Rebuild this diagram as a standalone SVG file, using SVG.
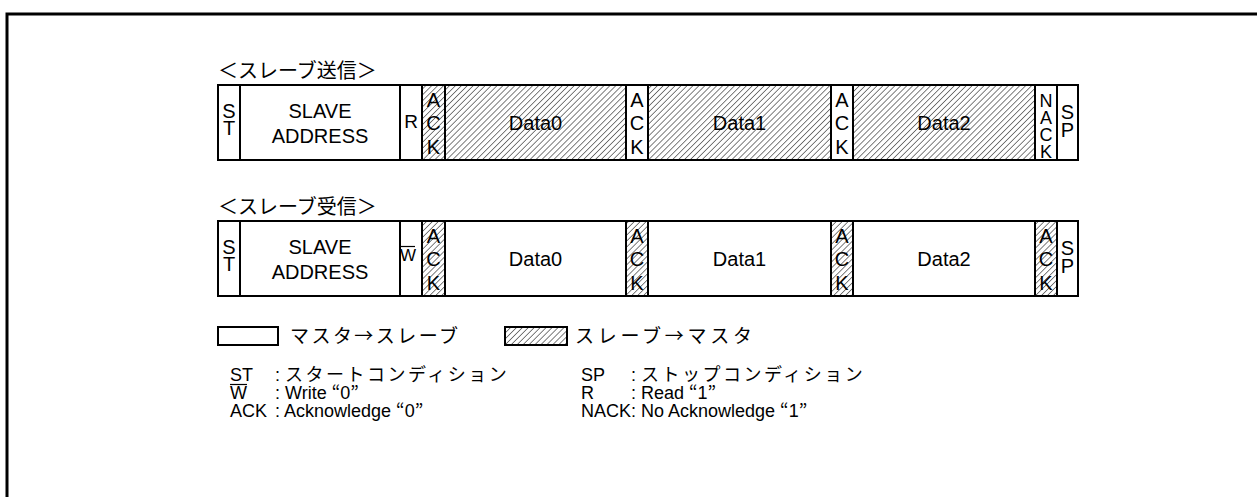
<svg xmlns="http://www.w3.org/2000/svg" width="1257" height="497" viewBox="0 0 1257 497">
<style>
.t{font-family:"Liberation Sans",Arial,sans-serif;fill:#000}
.j{font-family:"Noto Sans CJK JP","Liberation Sans",sans-serif;fill:#000}
.c{stroke:#000;stroke-width:2}
.w{fill:#fff}
.h{fill:url(#hatch)}
.m{text-anchor:middle;font-size:20px}
.d{font-size:18px}
.dj{font-size:18px;letter-spacing:2.5px}
</style>
<defs>
<pattern id="hatch" patternUnits="userSpaceOnUse" width="4.2" height="4.2" patternTransform="rotate(45)">
<rect width="4.2" height="4.2" fill="#fff"/>
<line x1="0" y1="0" x2="0" y2="4.2" stroke="#000" stroke-width="1"/>
</pattern>
</defs>
<rect width="1257" height="497" fill="#fff"/>
<path d="M7 497 V14 H1257" fill="none" stroke="#000" stroke-width="3"/>

<g id="title1"><text class="j" x="218" y="78" font-size="20">＜スレーブ送信＞</text></g>
<g id="row1">
<rect class="c w" x="218" y="85" width="22" height="75"/>
<rect class="c w" x="240" y="85" width="160" height="75"/>
<rect class="c w" x="400" y="85" width="22" height="75"/>
<rect class="c h" x="422" y="85" width="23" height="75"/>
<rect class="c h" x="445" y="85" width="181" height="75"/>
<rect class="c w" x="626" y="85" width="22" height="75"/>
<rect class="c h" x="648" y="85" width="183" height="75"/>
<rect class="c w" x="831" y="85" width="22" height="75"/>
<rect class="c h" x="853" y="85" width="182" height="75"/>
<rect class="c w" x="1035" y="85" width="22" height="75"/>
<rect class="c w" x="1057" y="85" width="21" height="75"/>
<g class="t m">
<text x="229" y="118">S</text><text x="229" y="135">T</text>
<text x="320" y="118">SLAVE</text><text x="320" y="143">ADDRESS</text>
<text x="411" y="128" font-size="19">R</text>
<text x="433.5" y="107">A</text><text x="433.5" y="130">C</text><text x="433.5" y="154">K</text>
<text x="535.5" y="130">Data0</text>
<text x="637" y="107">A</text><text x="637" y="130">C</text><text x="637" y="154">K</text>
<text x="739.5" y="130">Data1</text>
<text x="842" y="107">A</text><text x="842" y="130">C</text><text x="842" y="154">K</text>
<text x="944" y="130">Data2</text>
<text x="1046" y="107" font-size="18">N</text><text x="1046" y="124" font-size="18">A</text><text x="1046" y="141" font-size="18">C</text><text x="1046" y="158" font-size="18">K</text>
<text x="1067.5" y="119">S</text><text x="1067.5" y="137">P</text>
</g>
</g>

<g id="title2"><text class="j" x="218" y="214" font-size="20">＜スレーブ受信＞</text></g>
<g id="row2">
<rect class="c w" x="218" y="221" width="22" height="75"/>
<rect class="c w" x="240" y="221" width="160" height="75"/>
<rect class="c w" x="400" y="221" width="22" height="75"/>
<rect class="c h" x="422" y="221" width="23" height="75"/>
<rect class="c w" x="445" y="221" width="181" height="75"/>
<rect class="c h" x="626" y="221" width="22" height="75"/>
<rect class="c w" x="648" y="221" width="183" height="75"/>
<rect class="c h" x="831" y="221" width="22" height="75"/>
<rect class="c w" x="853" y="221" width="182" height="75"/>
<rect class="c h" x="1035" y="221" width="22" height="75"/>
<rect class="c w" x="1057" y="221" width="21" height="75"/>
<g class="t m">
<text x="229" y="254">S</text><text x="229" y="271">T</text>
<text x="320" y="254">SLAVE</text><text x="320" y="279">ADDRESS</text>
<text x="408" y="261" font-size="17">W</text>
<text x="433.5" y="243">A</text><text x="433.5" y="266">C</text><text x="433.5" y="290">K</text>
<text x="535.5" y="266">Data0</text>
<text x="637" y="243">A</text><text x="637" y="266">C</text><text x="637" y="290">K</text>
<text x="739.5" y="266">Data1</text>
<text x="842" y="243">A</text><text x="842" y="266">C</text><text x="842" y="290">K</text>
<text x="944" y="266">Data2</text>
<text x="1046" y="243">A</text><text x="1046" y="266">C</text><text x="1046" y="290">K</text>
<text x="1067.5" y="255">S</text><text x="1067.5" y="273">P</text>
</g>
<line x1="400" y1="246.5" x2="415" y2="246.5" stroke="#000" stroke-width="1.2"/>
</g>

<g id="legend">
<rect class="c w" x="218" y="327" width="60" height="18"/>
<text class="j" x="290" y="343" font-size="19" textLength="168" lengthAdjust="spacing">マスタ→スレーブ</text>
<rect class="c h" x="505" y="327" width="62" height="18"/>
<text class="j" x="575" y="343" font-size="19" textLength="177" lengthAdjust="spacing">スレーブ→マスタ</text>
</g>

<g id="definitions">
<text class="t d" x="230" y="381">ST</text>
<text class="t d" x="275" y="381">: <tspan class="j dj">スタートコンディション</tspan></text>
<text class="t d" x="230" y="399">W</text>
<line x1="230" y1="384.5" x2="247" y2="384.5" stroke="#000" stroke-width="1.2"/>
<text class="t d" x="275" y="399">: Write <tspan class="j">“</tspan>0<tspan class="j">”</tspan></text>
<text class="t d" x="230" y="417">ACK</text>
<text class="t d" x="275" y="417">: Acknowledge <tspan class="j">“</tspan>0<tspan class="j">”</tspan></text>
<text class="t d" x="581" y="381">SP</text>
<text class="t d" x="631" y="381">: <tspan class="j dj">ストップコンディション</tspan></text>
<text class="t d" x="581" y="399">R</text>
<text class="t d" x="631" y="399">: Read <tspan class="j">“</tspan>1<tspan class="j">”</tspan></text>
<text class="t d" x="581" y="417">NACK: No Acknowledge <tspan class="j">“</tspan>1<tspan class="j">”</tspan></text>
</g>
</svg>
